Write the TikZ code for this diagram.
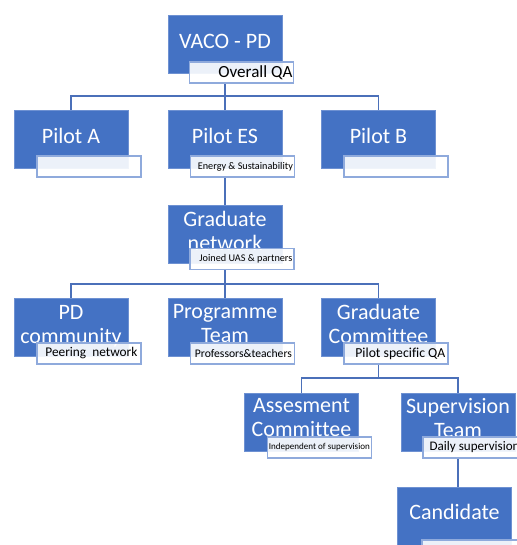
\documentclass[tikz,border=0pt]{standalone}
\usepackage{fontspec}
\setmainfont{Carlito}[Ligatures=NoCommon]
\usetikzlibrary{backgrounds}
\definecolor{boxblue}{RGB}{68,114,196}
\definecolor{boxedge}{RGB}{110,145,210}
\definecolor{labedge}{RGB}{143,170,220}
\definecolor{connc}{RGB}{75,112,185}
\tikzset{
  box/.style={rectangle, fill=boxblue, draw=boxedge, line width=0.6pt, minimum width=114pt, minimum height=58pt, inner sep=0pt},
  boxtext/.style={text=white, font=\fontsize{22}{24}\selectfont, align=center, inner sep=0pt},
  lab/.style={rectangle, fill=white, fill opacity=0.9, draw=labedge, draw opacity=1, line width=1.2pt, minimum width=104pt, minimum height=21pt, inner sep=0pt},
  labtext/.style={text=black, inner sep=0pt, anchor=east},
  conn/.style={draw=connc, line width=1.3pt}
}
\newcommand{\fitw}[2]{\resizebox{#1}{!}{#2}}
\begin{document}
\begin{tikzpicture}[x=1pt,y=-1pt]
\useasboundingbox (0,0) rectangle (516,545);
% boxes
\node[box] (vaco) at (225,44) {};
\node[box] (pa) at (71,139.5) {};
\node[box] (pes) at (225,139.5) {};
\node[box] (pb) at (378.5,139.5) {};
\node[box] (gn) at (225,234) {};
\node[box] (pd) at (71,327) {};
\node[box] (pt) at (225,327) {};
\node[box] (gc) at (378.5,327) {};
\node[box] (ac) at (301.5,422) {};
\node[box] (st) at (458,422) {};
\node[box] (cand) at (454.5,516) {};
% box texts
\node[boxtext] (vacot) at ([yshift=3pt]vaco.center) {VACO - PD};
\node[boxtext] (pat) at ([yshift=4pt]pa.center) {Pilot A};
\node[boxtext] (pest) at ([yshift=4pt]pes.center) {Pilot ES};
\node[boxtext] (pbt) at ([yshift=4pt]pb.center) {Pilot B};
\node[boxtext] (gnt) at ([yshift=3pt]gn.center) {Graduate\\network};
\node[boxtext] (pdt) at ([yshift=1pt]pd.center) {PD\\community};
\node[boxtext] (ptt) at ([yshift=3pt]pt.center) {Programme\\Team};
\node[boxtext] (gct) at ([yshift=3pt]gc.center) {Graduate\\Committee};
\node[boxtext] (act) at ([yshift=4pt]ac.center) {Assesment\\Committee};
\node[boxtext] (stt) at ([yshift=4pt]st.center) {Supervision\\Team};
\node[boxtext] (candt) at ([yshift=4pt]cand.center) {Candidate};
% labels
\node[lab] (vacol) at (241.5,72.5) {};
\node[lab] (pal) at (89,166.5) {};
\node[lab] (pesl) at (242.5,166.5) {};
\node[lab] (pbl) at (396,166.5) {};
\node[lab] (gnl) at (242,259) {};
\node[lab] (pdl) at (89,353.5) {};
\node[lab] (ptl) at (242.5,353.5) {};
\node[lab] (gcl) at (396,353.5) {};
\node[lab] (acl) at (319.5,447.5) {};
\node[lab] (stl) at (475,447.5) {};
\node[lab] (candl) at (474,550.5) {};
% label texts
\node[labtext] (vacolt) at ([xshift=-1.5pt]vacol.east) {\fitw{74pt}{Overall QA}};
\node[labtext] (peslt) at ([xshift=-2pt]pesl.east) {\fitw{95pt}{Energy \& Sustainability}};
\node[labtext] (gnlt) at ([xshift=-2pt]gnl.east) {\fitw{93pt}{Joined UAS \& partners}};
\node[labtext] (pdlt) at ([xshift=-4pt]pdl.east) {\fitw{92pt}{Peering\ \ network}};
\node[labtext] (ptlt) at ([xshift=-3pt]ptl.east) {\fitw{97pt}{Professors\&teachers}};
\node[labtext] (gclt) at ([xshift=-3pt]gcl.east) {\fitw{90pt}{Pilot specific QA}};
\node[labtext] (aclt) at ([xshift=-2pt]acl.east) {\fitw{101pt}{Independent of supervision}};
\node[labtext, anchor=west] (stlt) at ([xshift=7pt]stl.west) {\fitw{90pt}{Daily supervision}};
% connectors
\coordinate (h1) at (225,96);
\coordinate (h2) at (225,284);
\coordinate (h3) at (378.5,378);
\begin{scope}[on background layer]
\draw[conn] (vaco.south |- vacol.south) -- (pes.north);
\draw[conn] (pa.north) |- (h1) -| (pb.north);
\draw[conn] (pes.south |- pesl.south) -- (gn.north);
\draw[conn] (gn.south |- gnl.south) -- (pt.north);
\draw[conn] (pd.north) |- (h2) -| (gc.north);
\draw[conn] (gc.south |- gcl.south) -- (h3);
\draw[conn] (ac.north) |- (h3) -| (st.north);
\draw[conn] (st.south |- stl.south) -- (st.south |- cand.north);
\end{scope}
\end{tikzpicture}
\end{document}
